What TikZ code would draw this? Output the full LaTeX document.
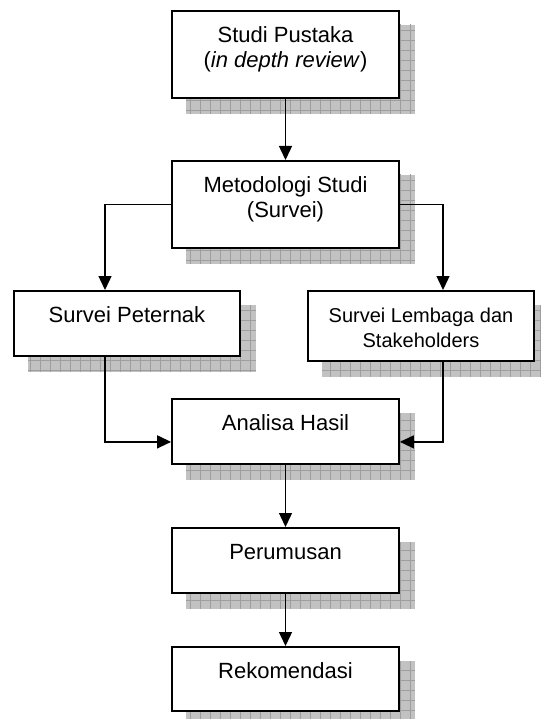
\documentclass[tikz,border=0pt]{standalone}
\usepackage{fontspec}
\setmainfont{Liberation Sans}
\usetikzlibrary{arrows.meta,backgrounds}

% two centred lines whose baseline is that of the first line
\newcommand{\stackedlines}[2]{\vtop{\halign{\hfil##\hfil\cr #1\cr #2\cr}}}

% hatched drop shadow, offset down and right from a box node
\newcommand{\boxshadow}[1]{%
  \fill[shadowfill] ([shift={(15,15)}]#1.north west) rectangle ([shift={(15,15)}]#1.south east);
  \begin{scope}
    \clip ([shift={(15,15)}]#1.north west) rectangle ([shift={(15,15)}]#1.south east);
    \draw[shadowgrid] (0,0) grid (550,740);
  \end{scope}}

\tikzset{
  stagebox/.style={draw, line width=1.8pt, fill=white, inner sep=0pt,
    minimum width=227pt, text height=32pt, anchor=north,
    font=\fontsize{22}{24.5}\selectfont},
  smalltext/.style={font=\fontsize{20}{25}\selectfont},
  shadowfill/.style={fill=black!24},
  shadowgrid/.style={draw=black!38, line width=0.6pt, step=10pt},
  flow/.style={line width=1.4pt, -{Triangle[length=14pt,width=13pt]}}
}

\begin{document}
\begin{tikzpicture}[x=1pt,y=-1pt]
  \useasboundingbox (0,0) rectangle (540,719);

  \node[stagebox, text depth=55pt] (b1) at (285.5,10)
    {\stackedlines{Studi Pustaka}{(\textit{in depth review})}};
  \node[stagebox, text depth=55pt] (b2) at (285.5,160)
    {\stackedlines{Metodologi Studi}{(Survei)}};
  \node[stagebox, minimum width=226pt, text depth=33pt] (b3) at (127,290)
    {Survei Peternak};
  \node[stagebox, smalltext, minimum width=226pt, text depth=38pt] (b4) at (421,290)
    {\stackedlines{Survei Lembaga dan}{Stakeholders}};
  \node[stagebox, text depth=33pt] (b5) at (285.5,398) {Analisa Hasil};
  \node[stagebox, text depth=33pt] (b6) at (285.5,527) {Perumusan};
  \node[stagebox, text depth=32pt] (b7) at (285.5,646) {Rekomendasi};

  \begin{scope}[on background layer]
    \boxshadow{b1}
    \boxshadow{b2}
    \boxshadow{b3}
    \boxshadow{b4}
    \boxshadow{b5}
    \boxshadow{b6}
    \boxshadow{b7}
  \end{scope}

  \draw[flow] (b1.south) -- (b2.north);
  \draw[flow] (b2.west) -| ([xshift=-22pt]b3.north);
  \draw[flow] (b2.east) -| ([xshift=22pt]b4.north);
  \draw[flow] ([xshift=-22pt]b3.south) |- ([yshift=-10.5pt]b5.west);
  \draw[flow] ([xshift=22pt]b4.south) |- ([yshift=-10.5pt]b5.east);
  \draw[flow] (b5.south) -- (b6.north);
  \draw[flow] (b6.south) -- (b7.north);
\end{tikzpicture}
\end{document}
